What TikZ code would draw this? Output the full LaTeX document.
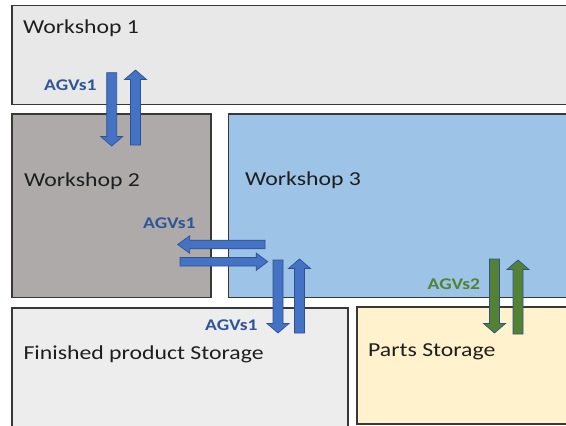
\documentclass[tikz,border=0pt]{standalone}
\usepackage{fontspec}
\setmainfont{Carlito}[FakeStretch=1.2]
\begin{document}
\begin{tikzpicture}[x=1pt,y=-1pt,
  area/.style={draw=black!78,line width=1.1pt},
  ws1/.style={area,fill=gray!18},
  ws2/.style={area,fill={rgb,255:red,174;green,170;blue,170}},
  ws3/.style={area,fill={rgb,255:red,157;green,195;blue,230}},
  fps/.style={area,fill=gray!14},
  pst/.style={area,fill={rgb,255:red,255;green,242;blue,204}},
  title/.style={anchor=base west,inner sep=0pt,font=\fontsize{19.8}{22}\selectfont,text={rgb,255:red,30;green,30;blue,30}},
  agv/.style={anchor=base west,inner sep=0pt,font=\fontsize{16.3}{18}\selectfont\bfseries},
  agvblue/.style={agv,text={rgb,255:red,47;green,85;blue,151}},
  agvgreen/.style={agv,text={rgb,255:red,84;green,130;blue,53}},
  bluearrow/.style={fill={rgb,255:red,68;green,114;blue,196},draw={rgb,255:red,47;green,82;blue,143},line width=0.7pt,line join=miter},
  greenarrow/.style={fill={rgb,255:red,84;green,130;blue,53},draw={rgb,255:red,47;green,82;blue,143},line width=0.7pt,line join=miter}]
\newcommand\vdownarrow[4]{\draw[#1] ({#2-5},#3) -- ({#2+5},#3) -- ({#2+5},{#4-9.5}) -- ({#2+11},{#4-9.5}) -- (#2,#4) -- ({#2-11},{#4-9.5}) -- ({#2-5},{#4-9.5}) -- cycle;}
\newcommand\vuparrow[4]{\draw[#1] ({#2-5},#3) -- ({#2+5},#3) -- ({#2+5},{#4+9.5}) -- ({#2+11},{#4+9.5}) -- (#2,#4) -- ({#2-11},{#4+9.5}) -- ({#2-5},{#4+9.5}) -- cycle;}
\newcommand\hleftarrow[4]{\draw[#1] (#3,{#2-4.3}) -- (#3,{#2+4.3}) -- ({#4+12},{#2+4.3}) -- ({#4+12},{#2+8.7}) -- (#4,#2) -- ({#4+12},{#2-8.7}) -- ({#4+12},{#2-4.3}) -- cycle;}
\newcommand\hrightarrow[4]{\draw[#1] (#3,{#2-4.3}) -- (#3,{#2+4.3}) -- ({#4-11.5},{#2+4.3}) -- ({#4-11.5},{#2+8.7}) -- (#4,#2) -- ({#4-11.5},{#2-8.7}) -- ({#4-11.5},{#2-4.3}) -- cycle;}
\useasboundingbox (0,0) rectangle (566,426);
\fill[white] (0,0) rectangle (566,426);
\clip (0,0) rectangle (566,426);
% areas
\draw[ws1] (12,5.5) rectangle (580,104.5);
\draw[ws2] (12,114) rectangle (211,297.5);
\draw[ws3] (228.5,114) rectangle (580,297.5);
\draw[fps] (12,308) rectangle (348,440);
\draw[pst] (357,307) rectangle (580,424);
% titles
\node[title] (t1) at (23,33.3) {Workshop 1};
\node[title] (t2) at (24,186) {Workshop 2};
\node[title] (t3) at (245,185) {Workshop 3};
\node[title] (t4) at (23.3,359) {Finished product Storage};
\node[title] (t5) at (368,356) {Parts Storage};
% arrows
\vdownarrow{bluearrow}{111.7}{72.7}{146}
\vuparrow{bluearrow}{135.5}{145}{70}
\hleftarrow{bluearrow}{244.5}{265}{177.7}
\hrightarrow{bluearrow}{261.7}{180}{267.7}
\vdownarrow{bluearrow}{278}{260}{333}
\vuparrow{bluearrow}{299.5}{333}{259}
\vdownarrow{greenarrow}{494.5}{259}{333}
\vuparrow{greenarrow}{518}{334}{260}
% labels
\node[agvblue] (l1) at (44,90) {AGVs1};
\node[agvblue] (l2) at (143,228.5) {AGVs1};
\node[agvblue] (l3) at (205,330.5) {AGVs1};
\node[agvgreen] (l4) at (427.5,289) {AGVs2};
\end{tikzpicture}
\end{document}
